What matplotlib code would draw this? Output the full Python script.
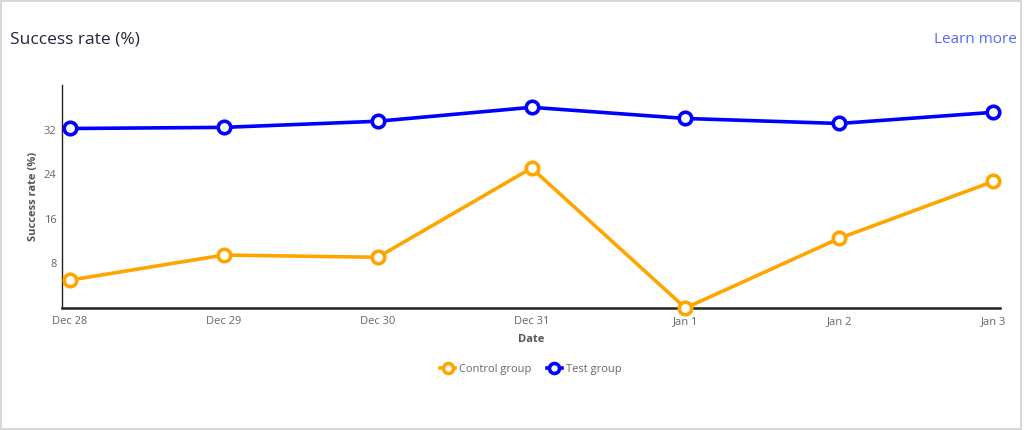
import matplotlib
matplotlib.use("Agg")
import matplotlib.pyplot as plt
from matplotlib.patches import Rectangle

dates = ["Dec 28", "Dec 29", "Dec 30", "Dec 31", "Jan 1", "Jan 2", "Jan 3"]
control = [5.0, 9.5, 9.1, 25.1, 0.0, 12.5, 22.7]
test = [32.2, 32.4, 33.5, 36.0, 34.0, 33.1, 35.1]
yticks = [8, 16, 24, 32]

plt.rcParams['font.family'] = ['Open Sans', 'DejaVu Sans']

fig = plt.figure(figsize=(10.24, 4.3), dpi=100)
fig.patches.append(Rectangle((0.001, 0.003), 0.996, 0.994, transform=fig.transFigure,
                             fill=False, edgecolor='#d0d0d0', linewidth=1.2))
ax = fig.add_axes([0.0605, 0.2837, 0.9161, 0.5186])

x = list(range(len(dates)))
ax.plot(x, control, color='#FFA500', linewidth=2.6, marker='o', markersize=9,
        markerfacecolor='white', markeredgewidth=2.6, markeredgecolor='#FFA500',
        label='Control group', clip_on=False, zorder=3)
ax.plot(x, test, color='#0000FF', linewidth=2.6, marker='o', markersize=9,
        markerfacecolor='white', markeredgewidth=2.6, markeredgecolor='#0000FF',
        label='Test group', clip_on=False, zorder=3)

ax.set_xlim(-0.052, 6.045)
ax.set_ylim(0, 40)
ax.set_xticks(x)
ax.set_xticklabels(dates)
ax.set_yticks(yticks)
ax.tick_params(axis='x', length=0, labelsize=8, labelcolor='#666666', pad=6)
ax.tick_params(axis='y', length=0, labelsize=8, labelcolor='#666666', pad=4)
for s in ['top', 'right']:
    ax.spines[s].set_visible(False)
ax.spines['left'].set_linewidth(1.0)
ax.spines['left'].set_color('#222222')
ax.spines['bottom'].set_linewidth(1.8)
ax.spines['bottom'].set_color('#222222')

ax.set_xlabel('Date', fontsize=8, fontweight='bold', color='#555555', labelpad=5)
ax.set_ylabel('Success rate (%)', fontsize=8, fontweight='bold', color='#555555', labelpad=3)

leg = ax.legend(loc='upper center', bbox_to_anchor=(0.5, -0.205), ncol=2, frameon=False,
                fontsize=8, handlelength=1.3, columnspacing=1.4, handletextpad=0.4,
                markerscale=0.8)
for t in leg.get_texts():
    t.set_color('#666666')

fig.text(0.010, 0.907, 'Success rate (%)', fontsize=12.5, color='#22253d', ha='left', va='center',
         fontweight='medium')
fig.text(0.993, 0.907, 'Learn more', fontsize=11, color='#5667ff', ha='right', va='center')

fig.savefig('out.png', dpi=100)
